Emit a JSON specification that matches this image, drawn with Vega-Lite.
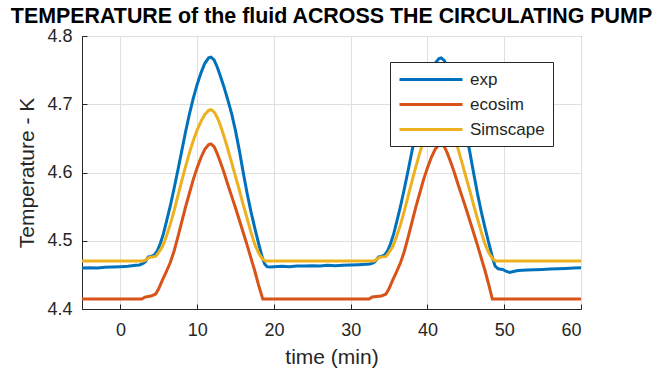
{
  "$schema": "https://vega.github.io/schema/vega-lite/v6.json",
  "width": 499,
  "height": 273,
  "autosize": {"type": "none"},
  "padding": {"left": 82, "top": 36, "right": 73, "bottom": 63},
  "background": "white",
  "title": {
    "text": "TEMPERATURE of the fluid ACROSS THE CIRCULATING PUMP",
    "font": "Liberation Sans",
    "fontSize": 21.4,
    "fontWeight": "bold",
    "color": "#000000",
    "anchor": "middle",
    "baseline": "alphabetic",
    "offset": 1,
    "dy": 18
  },
  "config": {
    "view": {"stroke": "#262626", "strokeWidth": 1},
    "axis": {
      "labelFont": "Liberation Sans",
      "labelFontSize": 18,
      "labelColor": "#262626",
      "titleFont": "Liberation Sans",
      "titleFontSize": 21,
      "titleFontWeight": "normal",
      "titleColor": "#262626",
      "gridColor": "#dfdfdf",
      "gridWidth": 1,
      "domainColor": "#262626",
      "tickColor": "#262626",
      "tickSize": -5
    }
  },
  "datasets": {
    "exp": [
      [-5,4.460],[-4,4.4605],[-3,4.460],[-2,4.461],[-1,4.4615],[0,4.462],[1,4.4625],[2,4.464],[2.5,4.4645],[3.0,4.467],[3.3,4.470],[3.6,4.476],[4.0,4.477],[4.4,4.479],[4.8,4.485],[5.2,4.496],[5.6,4.510],[6.0,4.528],[6.5,4.551],[7.0,4.577],[7.5,4.604],[8.0,4.632],[8.5,4.660],[9.0,4.686],[9.5,4.709],[10.0,4.729],[10.5,4.746],[11.0,4.760],[11.5,4.768],[11.8,4.769],[12.2,4.765],[12.6,4.755],[13.0,4.742],[13.5,4.725],[14.0,4.706],[14.5,4.686],[15.0,4.661],[15.5,4.632],[16.0,4.600],[16.5,4.570],[17.0,4.543],[17.5,4.519],[18.0,4.496],[18.5,4.475],[18.8,4.466],[19.1,4.462],[19.5,4.4615],[20,4.462],[21,4.4625],[22,4.462],[23,4.463],[24,4.463],[25,4.4635],[26,4.463],[27,4.464],[28,4.4635],[29,4.464],[30,4.4645],[31,4.465],[32,4.4655],[32.5,4.466],[33.0,4.468],[33.3,4.471],[33.6,4.476],[34.0,4.477],[34.4,4.479],[34.8,4.485],[35.2,4.496],[35.6,4.510],[36.0,4.528],[36.5,4.551],[37.0,4.577],[37.5,4.604],[38.0,4.632],[38.5,4.660],[39.0,4.686],[39.5,4.709],[40.0,4.729],[40.5,4.746],[41.0,4.760],[41.5,4.767],[41.8,4.768],[42.2,4.764],[42.6,4.754],[43.0,4.741],[43.5,4.724],[44.0,4.705],[44.5,4.685],[45.0,4.660],[45.5,4.631],[46.0,4.600],[46.5,4.570],[47.0,4.543],[47.5,4.519],[48.0,4.496],[48.5,4.474],[48.8,4.463],[49.2,4.459],[49.8,4.458],[50.3,4.455],[50.7,4.4535],[51.2,4.455],[51.8,4.4565],[53,4.457],[54,4.4575],[55,4.458],[56,4.4585],[57,4.459],[58,4.4595],[59,4.460],[60,4.4605]
    ],
    "ecosim": [
      [-5,4.4145],[2.8,4.4145],[3.2,4.4175],[4.0,4.419],[4.6,4.422],[5.0,4.430],[5.5,4.443],[6.0,4.455],[6.5,4.468],[7.0,4.485],[7.5,4.506],[8.0,4.528],[8.5,4.550],[9.0,4.570],[9.5,4.590],[10.0,4.607],[10.5,4.622],[11.0,4.634],[11.5,4.641],[11.8,4.642],[12.2,4.638],[12.6,4.628],[13.0,4.616],[13.5,4.600],[14.0,4.582],[14.5,4.565],[15.0,4.548],[15.5,4.530],[16.0,4.512],[16.5,4.494],[17.0,4.475],[17.5,4.456],[18.0,4.435],[18.55,4.4145],[32.4,4.4145],[32.8,4.4175],[34.0,4.419],[34.6,4.422],[35.0,4.430],[35.5,4.443],[36.0,4.455],[36.5,4.468],[37.0,4.485],[37.5,4.506],[38.0,4.528],[38.5,4.550],[39.0,4.570],[39.5,4.590],[40.0,4.607],[40.5,4.622],[41.0,4.634],[41.5,4.641],[41.8,4.642],[42.2,4.638],[42.6,4.628],[43.0,4.616],[43.5,4.600],[44.0,4.582],[44.5,4.565],[45.0,4.548],[45.5,4.530],[46.0,4.512],[46.5,4.494],[47.0,4.475],[47.5,4.456],[48.0,4.435],[48.45,4.4145],[60,4.4145]
    ],
    "Simscape": [
      [-5,4.4705],[3.0,4.4705],[3.3,4.472],[3.6,4.475],[4.0,4.476],[4.6,4.477],[5.0,4.483],[5.5,4.492],[6.0,4.507],[6.5,4.524],[7.0,4.544],[7.5,4.566],[8.0,4.588],[8.5,4.609],[9.0,4.629],[9.5,4.647],[10.0,4.662],[10.5,4.675],[11.0,4.685],[11.5,4.691],[11.8,4.692],[12.2,4.689],[12.6,4.681],[13.0,4.670],[13.5,4.653],[14.0,4.634],[14.5,4.614],[15.0,4.594],[15.5,4.574],[16.0,4.553],[16.5,4.533],[17.0,4.513],[17.5,4.495],[18.0,4.482],[18.5,4.4735],[18.9,4.4705],[33.0,4.4705],[33.3,4.472],[33.6,4.475],[34.0,4.476],[34.6,4.477],[35.0,4.483],[35.5,4.492],[36.0,4.507],[36.5,4.524],[37.0,4.544],[37.5,4.566],[38.0,4.588],[38.5,4.609],[39.0,4.629],[39.5,4.647],[40.0,4.662],[40.5,4.675],[41.0,4.685],[41.5,4.691],[41.8,4.692],[42.2,4.689],[42.6,4.681],[43.0,4.670],[43.5,4.653],[44.0,4.634],[44.5,4.614],[45.0,4.594],[45.5,4.574],[46.0,4.553],[46.5,4.533],[47.0,4.513],[47.5,4.495],[48.0,4.482],[48.5,4.4735],[48.9,4.4705],[60,4.4705]
    ]
  },
  "encoding": {
    "x": {
      "field": "t", "type": "quantitative",
      "scale": {"domain": [-5, 60], "nice": false, "zero": false},
      "axis": {"values": [0,10,20,30,40,50,60], "title": "time (min)", "labelPadding": 17, "titlePadding": 7, "grid": true}
    },
    "y": {
      "field": "T", "type": "quantitative",
      "scale": {"domain": [4.4, 4.8], "nice": false, "zero": false},
      "axis": {"values": [4.4,4.5,4.6,4.7,4.8], "format": ".1f", "title": "Temperature - K", "labelPadding": 15, "titlePadding": 9, "grid": true}
    },
    "color": {
      "field": "s", "type": "nominal",
      "scale": {"domain": ["exp", "ecosim", "Simscape"], "range": ["#0072BD", "#D95319", "#EDB120"]},
      "legend": {
        "title": null,
        "orient": "none",
        "legendX": 308,
        "legendY": 26,
        "symbolType": "M-1,0H6.875",
        "symbolSize": 256,
        "symbolStrokeWidth": 3,
        "labelFont": "Liberation Sans",
        "labelFontSize": 17,
        "labelColor": "#262626",
        "labelOffset": 53,
        "labelLimit": 300,
        "padding": 8,
        "rowPadding": 7,
        "strokeColor": "#262626",
        "fillColor": "white"
      }
    }
  },
  "layer": [
    {
      "data": {"name": "exp"},
      "transform": [{"calculate": "datum[0]", "as": "t"}, {"calculate": "datum[1]", "as": "T"}, {"calculate": "'exp'", "as": "s"}],
      "mark": {"type": "line", "strokeWidth": 3, "clip": true}
    },
    {
      "data": {"name": "ecosim"},
      "transform": [{"calculate": "datum[0]", "as": "t"}, {"calculate": "datum[1]", "as": "T"}, {"calculate": "'ecosim'", "as": "s"}],
      "mark": {"type": "line", "strokeWidth": 3, "clip": true}
    },
    {
      "data": {"name": "Simscape"},
      "transform": [{"calculate": "datum[0]", "as": "t"}, {"calculate": "datum[1]", "as": "T"}, {"calculate": "'Simscape'", "as": "s"}],
      "mark": {"type": "line", "strokeWidth": 3, "clip": true}
    }
  ]
}
